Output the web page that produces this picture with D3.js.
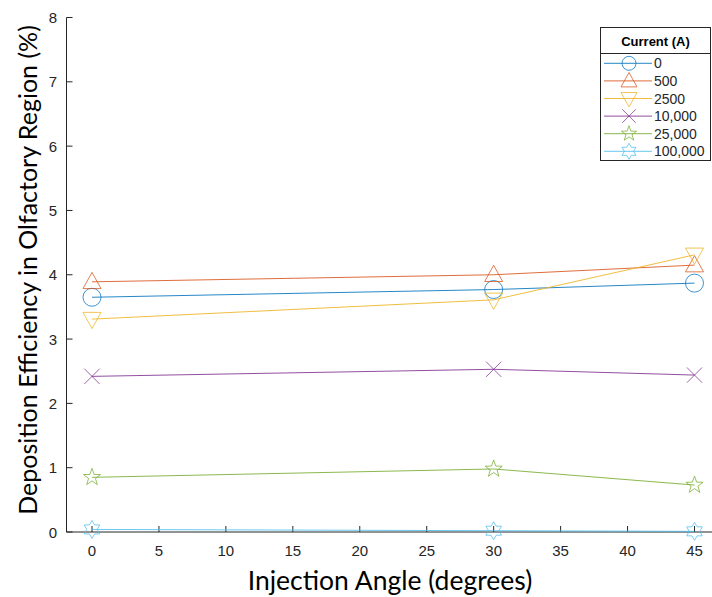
<!DOCTYPE html>
<html>
<head>
<meta charset="utf-8">
<script src="https://cdn.jsdelivr.net/npm/d3@7"></script>
<style>
  body { margin: 0; background: #fff; }
  svg { display: block; }
</style>
</head>
<body>
<div id="chart"></div>
<script>
// data
const angles = [0, 30, 45];
const currents = ['0', '500', '2500', '10,000', '25,000', '100,000'];
const eff0 = [3.65, 3.77, 3.87];
const eff500 = [3.89, 4.00, 4.15];
const eff2500 = [3.31, 3.61, 4.31];
const eff10000 = [2.42, 2.53, 2.44];
const eff25000 = [0.85, 0.98, 0.73];
const eff100000 = [0.04, 0.02, 0.01];
const xTicks = [0, 5, 10, 15, 20, 25, 30, 35, 40, 45];
const yTicks = [0, 1, 2, 3, 4, 5, 6, 7, 8];

const colors = ['#0072BD', '#D95319', '#EDB120', '#7E2F8E', '#77AC30', '#4DBEEE'];
const shapes = ['circle', 'triUp', 'triDown', 'cross', 'star', 'hexagram'];
const series = [eff0, eff500, eff2500, eff10000, eff25000, eff100000].map((vals, i) => ({
    name: currents[i], color: colors[i], shape: shapes[i], values: vals
}));

const W = 712, H = 597;
const svg = d3.select('#chart').append('svg').attr('width', W).attr('height', H);

const x = d3.scaleLinear().domain([0, 45]).range([92, 694.5]);
const y = d3.scaleLinear().domain([0, 8]).range([532, 17.5]);
const axisColor = '#262626';
const tickFont = '"Liberation Sans", Arial, sans-serif';

// axes lines
svg.append('line').attr('x1', 66.5).attr('x2', 66.5).attr('y1', y(8)).attr('y2', y(0))
   .attr('stroke', axisColor).attr('stroke-width', 1);
svg.append('line').attr('x1', 66.5).attr('x2', W).attr('y1', y(0)).attr('y2', y(0))
   .attr('stroke', axisColor).attr('stroke-width', 1);

// y ticks (inward)
svg.selectAll('.yt').data(yTicks).enter().append('line')
   .attr('x1', 66.5).attr('x2', 72.5).attr('y1', d => y(d)).attr('y2', d => y(d))
   .attr('stroke', axisColor);
svg.selectAll('.yl').data(yTicks).enter().append('text')
   .attr('x', 57).attr('y', d => y(d) + 5.5).attr('text-anchor', 'end')
   .attr('font-family', tickFont).attr('font-size', 15).attr('fill', axisColor)
   .text(d => d);

// x ticks (inward)
svg.selectAll('.xt').data(xTicks).enter().append('line')
   .attr('x1', d => x(d)).attr('x2', d => x(d)).attr('y1', y(0)).attr('y2', y(0) - 6)
   .attr('stroke', axisColor);
svg.selectAll('.xl').data(xTicks).enter().append('text')
   .attr('x', d => x(d)).attr('y', 556).attr('text-anchor', 'middle')
   .attr('font-family', tickFont).attr('font-size', 15).attr('fill', axisColor)
   .text(d => d);

// axis labels
const labelFont = 'Lato, "Open Sans", sans-serif';
svg.append('text').attr('x', 390).attr('y', 590).attr('text-anchor', 'middle')
   .attr('font-family', labelFont).attr('font-size', 26.5).attr('fill', '#000')
   .text('Injection Angle (degrees)');
svg.append('text').attr('transform', 'translate(37,270) rotate(-90)')
   .attr('text-anchor', 'middle')
   .attr('font-family', labelFont).attr('font-size', 25).attr('fill', '#000')
   .text('Deposition Efficiency in Olfactory Region (%)');

// marker path generator
function markerPath(shape, s) {
    if (shape === 'circle') {
        return d3.symbol(d3.symbolCircle, Math.PI * s * s)();
    }
    if (shape === 'triUp') {
        return `M0,${-s * 1.05}L${s},${s * 0.75}L${-s},${s * 0.75}Z`;
    }
    if (shape === 'triDown') {
        return `M0,${s * 1.05}L${s},${-s * 0.75}L${-s},${-s * 0.75}Z`;
    }
    if (shape === 'cross') {
        const k = s * 0.85;
        return `M${-k},${-k}L${k},${k}M${-k},${k}L${k},${-k}`;
    }
    if (shape === 'star') {
        const pts = [];
        for (let i = 0; i < 10; i++) {
            const r = i % 2 === 0 ? s : s * 0.4;
            const a = -Math.PI / 2 + i * Math.PI / 5;
            pts.push([r * Math.cos(a), r * Math.sin(a)]);
        }
        return 'M' + pts.map(p => p.join(',')).join('L') + 'Z';
    }
    if (shape === 'hexagram') {
        const pts = [];
        for (let i = 0; i < 12; i++) {
            const r = i % 2 === 0 ? s : s * 0.58;
            const a = -Math.PI / 2 + i * Math.PI / 6;
            pts.push([r * Math.cos(a), r * Math.sin(a)]);
        }
        return 'M' + pts.map(p => p.join(',')).join('L') + 'Z';
    }
}

const line = d3.line().x((d, i) => x(angles[i])).y(d => y(d));

series.forEach(s => {
    const g = svg.append('g');
    g.append('path').datum(s.values).attr('d', line)
     .attr('fill', 'none').attr('stroke', s.color).attr('stroke-width', 1).attr('opacity', 0.85);
    g.selectAll('path.m').data(s.values).enter().append('path').attr('class', 'm')
     .attr('transform', (d, i) => `translate(${x(angles[i])},${y(d)})`)
     .attr('d', markerPath(s.shape, 9))
     .attr('fill', 'none').attr('stroke', s.color).attr('stroke-width', 1).attr('opacity', 0.75);
});

// legend
const lg = svg.append('g');
lg.append('rect').attr('x', 600.5).attr('y', 27.5).attr('width', 110).attr('height', 133)
  .attr('fill', '#fff').attr('stroke', axisColor).attr('stroke-width', 1);
lg.append('line').attr('x1', 600.5).attr('x2', 710.5).attr('y1', 53.5).attr('y2', 53.5)
  .attr('stroke', axisColor);
lg.append('text').attr('x', 655.5).attr('y', 45.5).attr('text-anchor', 'middle')
  .attr('font-family', tickFont).attr('font-size', 13).attr('font-weight', 'bold').attr('fill', '#000')
  .text('Current (A)');
const items = lg.selectAll('.item').data(series).enter().append('g')
  .attr('transform', (d, i) => `translate(0,${63.3 + i * 17.6})`);
items.append('line').attr('x1', 604).attr('x2', 652).attr('y1', 0).attr('y2', 0)
  .attr('stroke', d => d.color).attr('stroke-width', 1).attr('opacity', 0.85);
items.append('path').attr('transform', 'translate(629,0)')
  .attr('d', d => markerPath(d.shape, d.shape === 'circle' ? 7 : 8))
  .attr('fill', 'none').attr('stroke', d => d.color).attr('opacity', 0.75);
items.append('text').attr('x', 654).attr('y', 5).attr('font-family', tickFont)
  .attr('font-size', 14).attr('fill', axisColor).text(d => d.name);
</script>
</body>
</html>
